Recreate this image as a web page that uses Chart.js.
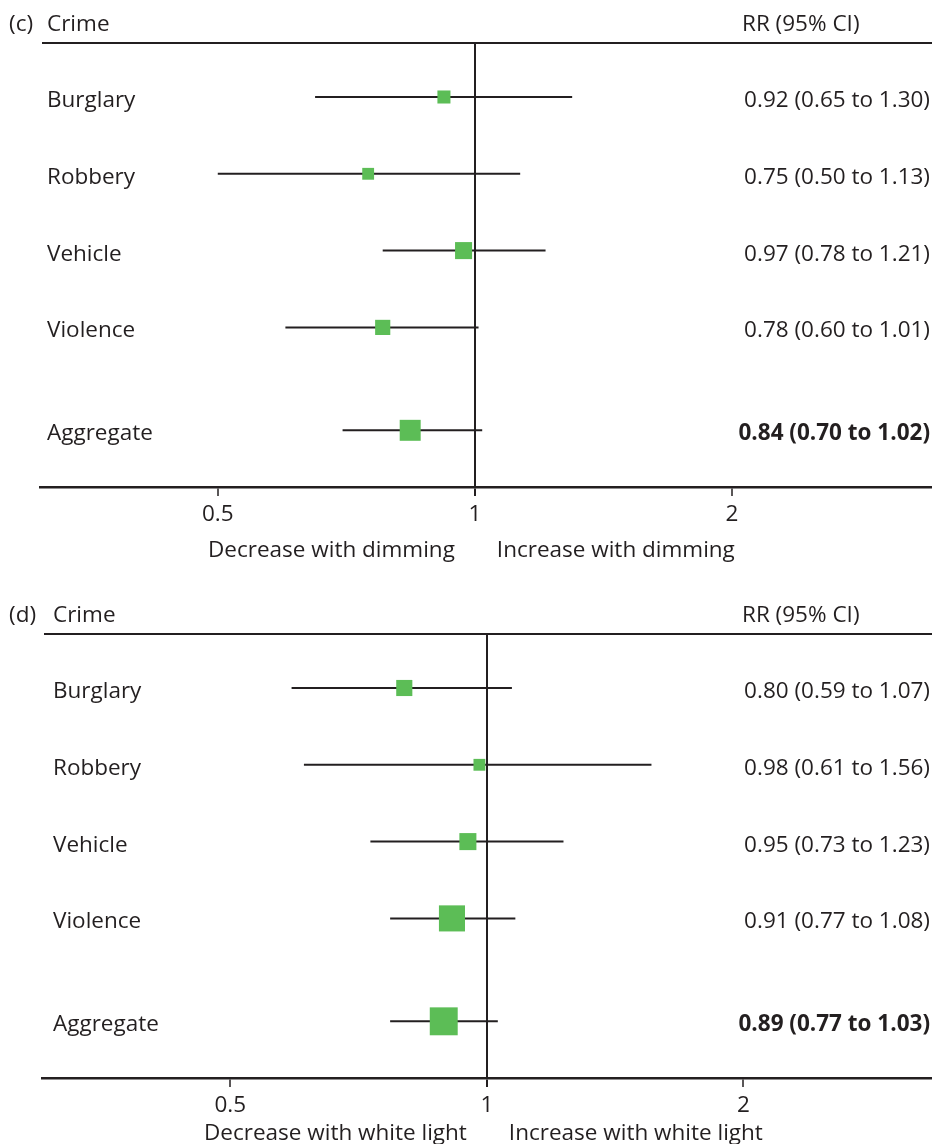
<!DOCTYPE html>
<html>
<head>
<meta charset="utf-8">
<script src="https://cdn.jsdelivr.net/npm/chart.js@4/dist/chart.umd.min.js"></script>
<style>
  html, body { margin: 0; padding: 0; background: #fff; overflow: hidden; width: 932px; height: 1144px; }
  .panel { position: absolute; left: 0; width: 932px; overflow: hidden; }
  canvas { display: block; }
</style>
</head>
<body>
<div class="panel" style="top:0;height:591px"><canvas id="panelC"></canvas></div>
<div class="panel" style="top:591px;height:553px"><canvas id="panelD"></canvas></div>
<script>
// Crime categories (last row is the pooled estimate)
const crimes = ['Burglary', 'Robbery', 'Vehicle', 'Violence', 'Aggregate'];

// (c) part-night dimming: rate ratios with 95% CI
const dimRR = [0.92, 0.75, 0.97, 0.78, 0.84];
const dimLo = [0.65, 0.50, 0.78, 0.60, 0.70];
const dimHi = [1.30, 1.13, 1.21, 1.01, 1.02];
const dimWeight = [17, 14, 29, 23, 44];

// (d) white light: rate ratios with 95% CI
const whiteRR = [0.80, 0.98, 0.95, 0.91, 0.89];
const whiteLo = [0.59, 0.61, 0.73, 0.77, 0.77];
const whiteHi = [1.07, 1.56, 1.23, 1.08, 1.03];
const whiteWeight = [26, 14, 29, 68, 78];

const xTicks = [0.5, 1, 2];

const INK = '#231f20';
const GREEN = '#5cbd56';
const FONT = '"Open Sans", "Noto Sans", sans-serif';
const SIZE = 22.5;

// row slot: the pooled row sits a little further down
function rowY(i) { return i + (i === crimes.length - 1 ? 0.34 : 0); }
function fmt(v) { return v.toFixed(2); }

function forestText(opts) {
  return {
    id: 'forestText',
    afterDraw(chart) {
      const { ctx, chartArea, scales } = chart;
      const xs = scales.x, ys = scales.y;
      ctx.save();
      ctx.fillStyle = INK;
      ctx.strokeStyle = INK;
      // header rule
      ctx.lineWidth = 2;
      ctx.beginPath();
      ctx.moveTo(chartArea.left + 2, chartArea.top);
      ctx.lineTo(chartArea.right, chartArea.top);
      ctx.stroke();
      // header texts
      ctx.font = SIZE + 'px ' + FONT;
      ctx.textBaseline = 'alphabetic';
      ctx.textAlign = 'left';
      ctx.fillText(opts.tag, 9, 31);
      ctx.fillText('Crime', opts.labelX, 31);
      ctx.fillText('RR (95% CI)', 742, 31);
      // row labels and values
      crimes.forEach((name, i) => {
        const y = ys.getPixelForValue(rowY(i)) + 10;
        const pooled = i === crimes.length - 1;
        ctx.font = SIZE + 'px ' + FONT;
        ctx.textAlign = 'left';
        ctx.fillText(name, opts.labelX, y);
        ctx.font = (pooled ? 'bold ' : '') + SIZE + 'px ' + FONT;
        ctx.textAlign = 'right';
        ctx.fillText(fmt(opts.rr[i]) + ' (' + fmt(opts.lo[i]) + ' to ' + fmt(opts.hi[i]) + ')', 930, y);
      });
      // direction captions either side of the null line
      const x1 = xs.getPixelForValue(1);
      const yb = chartArea.bottom + opts.captionGap;
      ctx.font = SIZE + 'px ' + FONT;
      ctx.textAlign = 'right';
      ctx.fillText('Decrease with ' + opts.effect, x1 - 20, yb);
      ctx.textAlign = 'left';
      ctx.fillText('Increase with ' + opts.effect, x1 + 22, yb);
      ctx.restore();
    }
  };
}

function makePanel(id, o) {
  const markers = {
    type: 'scatter',
    order: 0,
    data: o.rr.map((v, i) => ({ x: v, y: rowY(i) })),
    pointStyle: 'rect',
    pointRadius: o.w.map(w => Math.sqrt(w * 10) / Math.SQRT2),
    pointHoverRadius: o.w.map(w => Math.sqrt(w * 10) / Math.SQRT2),
    backgroundColor: GREEN,
    borderWidth: 0
  };
  const whiskers = crimes.map((c, i) => ({
    type: 'line',
    order: 1,
    data: [{ x: o.lo[i], y: rowY(i) }, { x: o.hi[i], y: rowY(i) }],
    borderColor: INK,
    borderWidth: 2,
    pointRadius: 0,
    fill: false
  }));
  return new Chart(document.getElementById(id), {
    type: 'scatter',
    data: { datasets: [markers, ...whiskers] },
    options: {
      responsive: true,
      maintainAspectRatio: false,
      animation: false,
      events: [],
      layout: { autoPadding: false, padding: { left: o.left, right: 0, top: 43, bottom: o.bottom } },
      plugins: { legend: { display: false }, tooltip: { enabled: false } },
      scales: {
        x: {
          type: 'logarithmic',
          bounds: 'data',
          min: o.xMin,
          max: o.xMax,
          afterBuildTicks(scale) { scale.ticks = xTicks.map(v => ({ value: v })); },
          afterFit(scale) { scale.height = 60; },
          border: { display: true, color: INK, width: 2.5 },
          grid: {
            display: true,
            drawOnChartArea: true,
            color: ctx => (ctx.tick && ctx.tick.value === 1 ? INK : 'rgba(0,0,0,0)'),
            lineWidth: 2,
            tickColor: INK,
            tickWidth: ctx => (ctx.tick && ctx.tick.value === 1 ? 2 : 1.5),
            tickLength: 9
          },
          ticks: {
            color: INK,
            font: { family: FONT, size: SIZE },
            padding: 5,
            maxRotation: 0,
            autoSkip: false,
            callback: v => String(v)
          }
        },
        y: {
          type: 'linear',
          display: false,
          reverse: true,
          min: -0.703,
          max: 5.078
        }
      }
    },
    plugins: [forestText({ tag: o.tag, labelX: o.labelX, rr: o.rr, lo: o.lo, hi: o.hi, effect: o.effect, captionGap: o.captionGap })]
  });
}

makePanel('panelC', {
  rr: dimRR, lo: dimLo, hi: dimHi, w: dimWeight,
  tag: '(c)', labelX: 47, effect: 'dimming', captionGap: 70,
  left: 40, bottom: 44, xMin: 0.3096, xMax: 3.430
});
makePanel('panelD', {
  rr: whiteRR, lo: whiteLo, hi: whiteHi, w: whiteWeight,
  tag: '(d)', labelX: 53, effect: 'white light', captionGap: 62,
  left: 42, bottom: 6, xMin: 0.3006, xMax: 3.329
});
</script>
</body>
</html>
